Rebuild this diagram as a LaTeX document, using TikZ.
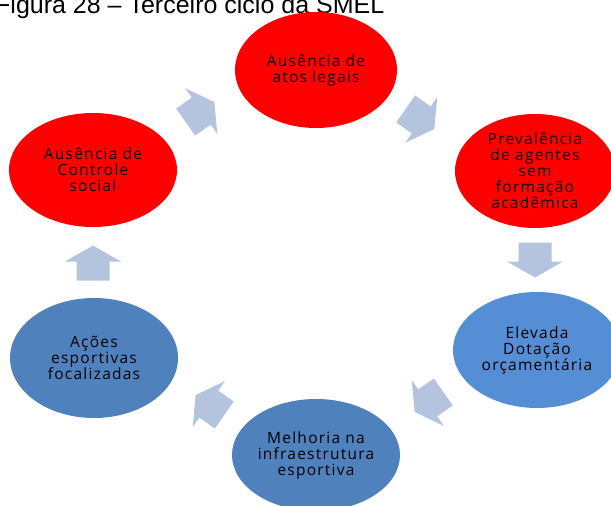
\documentclass[tikz,border=0pt]{standalone}
\usepackage{fontspec}
\setmainfont{Liberation Sans}
\newfontfamily\cyclefont[LetterSpace=8]{Open Sans}
\usetikzlibrary{shapes.geometric}
\definecolor{cyclered}{RGB}{255,0,0}
\definecolor{cycleblue}{RGB}{79,129,189}
\definecolor{cyclelight}{RGB}{85,142,213}
\definecolor{cyclearrow}{RGB}{180,196,222}
\tikzset{
	stage/.style={ellipse, inner sep=0pt, align=center, text=black,
		font=\cyclefont\fontsize{15.5}{16}\selectfont},
	blockarrow/.pic={
		\fill[cyclearrow] (-17.5,-16.5) -- (1.5,-16.5) -- (1.5,-28) -- (17.5,0)
			-- (1.5,28) -- (1.5,16.5) -- (-17.5,16.5) -- cycle;
	}
}
\begin{document}
\begin{tikzpicture}[x=1pt,y=1pt]
	\useasboundingbox (0,0) rectangle (611,-506);
	\node[anchor=base west, font=\fontsize{25}{30}\selectfont, inner sep=0pt] (title) at (-5,-13.5){Figura 28 -- Terceiro ciclo da SMEL};
	
	\node[stage, fill=cyclered, minimum width=162pt, minimum height=116pt] (atos) at (316,-70){Ausência de\\atos legais};
	\node[stage, fill=cyclered, minimum width=160pt, minimum height=114pt] (agentes) at (535,-171){Prevalência\\de agentes\\sem\\formação\\acadêmica};
	\node[stage, fill=cyclelight, minimum width=168pt, minimum height=116pt] (dotacao) at (537,-350){Elevada\\Dotação\\orçamentária};
	\node[stage, fill=cycleblue, minimum width=168pt, minimum height=112pt] (infra) at (316,-455){Melhoria na\\infraestrutura\\esportiva};
	\node[stage, fill=cycleblue, minimum width=168pt, minimum height=120pt] (acoes) at (94,-358){Ações\\esportivas\\focalizadas};
	\node[stage, fill=cyclered, minimum width=168pt, minimum height=114pt] (controle) at (93,-170){Ausência de\\Controle\\social};
	
	%\draw[thick] (controle) -- (atos);
	\pic[rotate=35] at (200,-112) {blockarrow};
	\pic[rotate=-35] at (420,-119) {blockarrow};
	\pic[rotate=-90] at (535,-260) {blockarrow};
	\pic[rotate=-145] at (429,-402) {blockarrow};
	\pic[rotate=145] at (210,-405) {blockarrow};
	\pic[rotate=90] at (93,-263) {blockarrow};
\end{tikzpicture}
\end{document}
